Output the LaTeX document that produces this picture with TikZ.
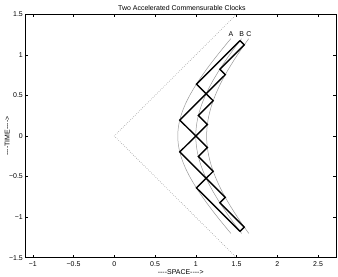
\documentclass[tikz,border=0pt]{standalone}
\usepackage{fontspec}
\setmainfont{Liberation Sans}
\usepackage{tikz}
\usetikzlibrary{calc, positioning}
\tikzset{
    axisbox/.style={draw=black, line width=0.6bp},
    tickmark/.style={black, line width=0.5bp},
    ticklabel/.style={font=\fontsize{7}{8}\selectfont, inner sep=0pt},
    curvelabel/.style={font=\fontsize{7}{8}\selectfont, inner sep=0pt}
}

\begin{document}
\begin{tikzpicture}[
		x=81.5bp, y=81.15bp,
		% World lines of the mirrors (hyperbolas)
		worldline/.style={
			gray!80,
			line width=0.5bp
		},
		% Light signal bouncing between two mirrors
		clock/.style={
			black,
			line width=1.4bp,
			line join=miter
		},
		% Light cone through the origin
		cone/.style={
			gray,
			line width=0.6bp,
			dash pattern=on 0.5bp off 1.6bp
		},
		plottext/.style={
			font=\fontsize{7}{8}\selectfont,
			inner sep=0pt
		}
		]
		
		% Page and axes frame
		\useasboundingbox (-1.4025,-1.7375) rectangle (2.745,1.676);
		\coordinate (SW) at (-1.09,-1.5);
		\coordinate (NE) at (2.72,1.5);
		
		% Ticks and tick labels
		\foreach \x/\lab [count=\i] in {-1/−1, -0.5/−0.5, 0/0, 0.5/0.5, 1/1, 1.5/1.5, 2/2, 2.5/2.5} {
			\draw [tickmark] (\x,-1.5) -- ++(0,3bp);
			\draw [tickmark] (\x,1.5) -- ++(0,-3bp);
			\node (xt\i) [ticklabel, below=3.6bp] at (\x,-1.5) {\lab};
		}
		\foreach \y/\lab [count=\i] in {-1.5/−1.5, -1/−1, -0.5/−0.5, 0/0, 0.5/0.5, 1/1, 1.5/1.5} {
			\draw [tickmark] (-1.09,\y) -- ++(3bp,0);
			\draw [tickmark] (2.72,\y) -- ++(-3bp,0);
			\node (yt\i) [ticklabel, left=2.4bp] at (-1.09,\y) {\lab};
		}
		
		% Light cone
		\coordinate (O) at (0,0);
		\coordinate (coneTop) at (1.5,1.5);
		\coordinate (coneBot) at (1.5,-1.5);
		\draw [cone] (coneTop) -- (O) -- (coneBot);
		
		% Mirrors A, B, C
		\foreach \r/\name in {0.7788/A, 1/B, 1.1331/C} {
			\draw [worldline] plot [domain=-1.2:1.2, samples=61, variable=\t] ({sqrt(\r*\r+\t*\t)}, \t);
			\coordinate (end\name) at ({sqrt(\r*\r+1.44)}, 1.2);
			\node (lab\name) [curvelabel, above=1.5bp of end\name] {\name};
		}
		
		% Clock between A and B
		\foreach \k in {0,...,8} {
			\pgfmathsetmacro\r{isodd(\k) ? 0.7788 : 1}
			\pgfmathsetmacro\e{-1+0.25*\k}
			\coordinate (ab\k) at ({\r*cosh(\e)}, {\r*sinh(\e)});
		}
		% Clock between B and C
		\foreach \k in {0,...,16} {
			\pgfmathsetmacro\r{isodd(\k) ? 1.1331 : 1}
			\pgfmathsetmacro\e{-1+0.125*\k}
			\coordinate (bc\k) at ({\r*cosh(\e)}, {\r*sinh(\e)});
		}
		\draw [clock] (ab0) \foreach \k in {1,...,8} { -- (ab\k) };
		\draw [clock] (bc0) \foreach \k in {1,...,16} { -- (bc\k) };
		
		% Frame
		\draw [axisbox] (SW) rectangle (NE);
		
		% Title and axis labels
		\node (title) [plottext] at (0.83,1.577) {Two Accelerated Commensurable Clocks};
		\node (xlabel) [plottext] at (0.815,-1.674) {-{}-{}-{}-SPACE-{}-{}-{}->};
		\node (ylabel) [plottext, rotate=90] at (-1.313,0) {-{}-{}-{}-TIME-{}-{}-{}->};
		
	\end{tikzpicture}
\end{document}
